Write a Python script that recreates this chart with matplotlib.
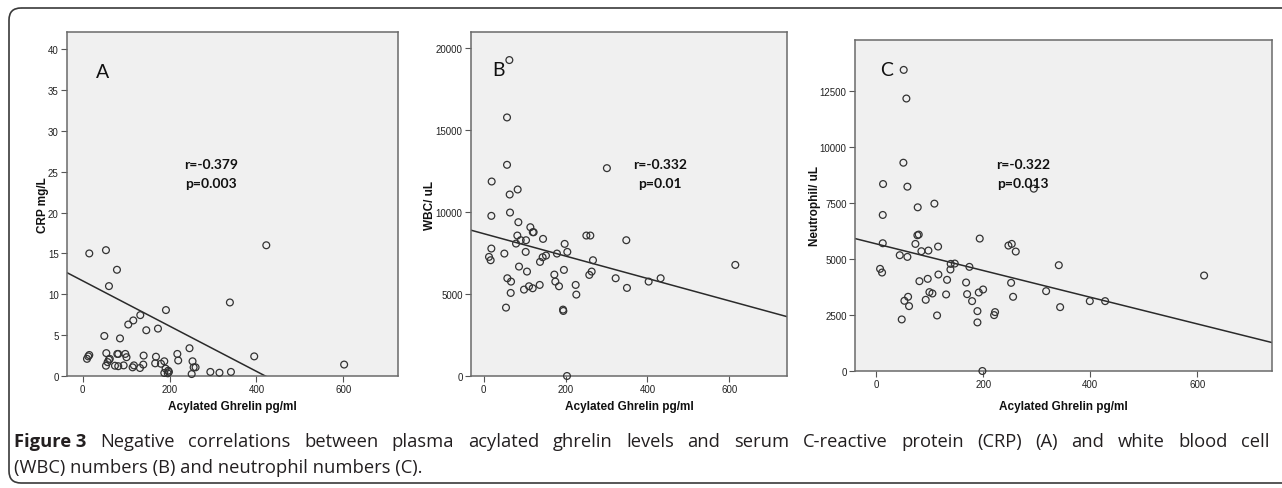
import matplotlib
matplotlib.use("Agg")
import matplotlib.pyplot as plt
from matplotlib.patches import FancyBboxPatch
import numpy as np

# ---------------- data ----------------
crp_x = [15.3, 53.7, 79, 60.6, 422.8, 339, 191.8, 132.7, 116.6, 105, 146.5, 173.4, 49.9, 86, 246,
         395, 602, 15.3, 13, 10, 54.5, 60.6, 62.5, 57.5, 53.7, 79.8, 82, 98.2, 101, 74.4,
         82, 94.4, 115, 118, 132, 140.4, 139.6, 168.8, 167, 180.3, 188, 191, 188, 197, 198.7,
         196, 218, 220, 253, 251, 255.5, 260, 294, 315, 341.4]
crp_y = [15.0, 15.4, 13.0, 11.0, 16.0, 9.0, 8.07, 7.45, 6.8, 6.3, 5.6, 5.8, 4.9, 4.6, 3.4,
         2.4, 1.4, 2.57, 2.4, 2.1, 2.8, 2.0, 2.1, 1.7, 1.26, 2.7, 2.7, 2.7, 2.3, 1.26,
         1.2, 1.3, 1.06, 1.3, 0.98, 2.5, 1.4, 2.36, 1.55, 1.5, 1.8, 0.9, 0.37, 0.65, 0.5,
         0.33, 2.7, 1.9, 1.8, 0.24, 1.06, 1.06, 0.5, 0.4, 0.5]

wbc_x = [62.7, 57, 57, 301, 19.5, 83, 63.5, 18.7, 64.3, 84.7, 114, 122, 120, 82.2, 250.8,
         260.5, 348.4, 145, 103.4, 90.4, 79, 197.8, 18.7, 50.5, 102.6, 204.3, 179, 152.2, 144, 13,
         17, 137.6, 267, 86.3, 105.8, 263.8, 172.6, 258, 196, 175, 57.8, 66.8, 322.4, 403, 432.3,
         614.7, 184, 136.8, 110.7, 119.7, 98.5, 224.7, 226.3, 66, 350, 54.5, 193.8, 194.6, 203.5]
wbc_y = [19287, 15784, 12892, 12688, 11873, 11385, 11079, 9776, 9979, 9389, 9083, 8778, 8778, 8574, 8574,
         8574, 8289, 8370, 8289, 8289, 8085, 8065, 7780, 7474, 7576, 7576, 7474, 7352, 7250, 7271,
         7067, 6965, 7067, 6680, 6375, 6375, 6191, 6171, 6476, 5763, 5967, 5763, 5967, 5763, 5967,
         6782, 5478, 5560, 5478, 5356, 5275, 5560, 4969, 5071, 5377, 4175, 4053, 3971, 0]

neu_x = [51.1, 56.1, 50.5, 12.5, 58, 294.4, 108.5, 77.3, 11.9, 79.2, 76.7, 193.3, 253.2, 73, 11.9,
         247, 115.4, 260.7, 97.3, 84.2, 43.7, 58, 341.2, 139, 146.6, 174, 138.5, 6.9, 10.6, 613,
         116, 132.2, 96, 80.5, 167.8, 252, 199.6, 191.5, 99.2, 104.8, 169.7, 130.4, 317.5, 59.3, 255.7,
         52.4, 92.3, 179, 399.2, 427.9, 61.1, 343.7, 189, 222, 220.2, 113.5, 47.4, 189, 198.3]
neu_y = [13436, 12159, 9294, 8343, 8225, 8136, 7468, 7304, 6963, 6087, 6057, 5909, 5671, 5671, 5701,
         5597, 5553, 5330, 5374, 5345, 5167, 5092, 4721, 4780, 4795, 4647, 4528, 4558, 4394, 4261,
         4305, 4068, 4112, 4008, 3949, 3934, 3637, 3504, 3519, 3459, 3429, 3415, 3563, 3311, 3311,
         3133, 3177, 3118, 3118, 3118, 2895, 2850, 2672, 2628, 2494, 2479, 2301, 2168, 0]

# fitted regression lines (intercept, slope)
fit_crp = (11.65, -0.0277)
fit_wbc = (8689, -6.836)
fit_neu = (5672, -5.95)

stats_crp = ["r=-0.379", "p=0.003"]
stats_wbc = ["r=-0.332", "p=0.01"]
stats_neu = ["r=-0.322", "p=0.013"]

yticks_crp = [0, 5, 10, 15, 20, 25, 30, 35, 40]
yticks_wbc = [0, 5000, 10000, 15000, 20000]
yticks_neu = [0, 2500, 5000, 7500, 10000, 12500]
xticks = [0, 200, 400, 600]

xlabel = "Acylated Ghrelin pg/ml"
ylabels = ["CRP mg/L", "WBC/ uL", "Neutrophil/ uL"]
letters = ["A", "B", "C"]

caption_bold = "Figure 3"
caption_line1 = ("Negative correlations between plasma acylated ghrelin levels and serum "
                 "C-reactive protein (CRP) (A) and white blood cell")
caption_line2 = "(WBC) numbers (B) and neutrophil numbers (C)."

# ---------------- layout ----------------
W, H = 1282, 489
fig = plt.figure(figsize=(W / 100, H / 100), dpi=100)
fig.patch.set_facecolor("white")

bg = fig.add_axes([0, 0, 1, 1], zorder=0)
bg.set_xlim(0, W)
bg.set_ylim(H, 0)
bg.axis("off")
frame = FancyBboxPatch((9, 9), W + 30, 475, boxstyle="round,pad=0,rounding_size=12",
                       facecolor="none", edgecolor="#3a3a3a", linewidth=1.2)
bg.add_patch(frame)

TICKFONT = ["Liberation Sans Narrow", "Liberation Sans", "DejaVu Sans"]
LBLFONT = ["Liberation Sans Narrow", "Liberation Sans", "DejaVu Sans"]
ANNFONT = ["Lato", "Open Sans", "DejaVu Sans"]
CAPFONT = ["Open Sans", "Lato", "DejaVu Sans"]


def px_axes(left, right, top, bottom):
    return fig.add_axes([left / W, (H - bottom) / H, (right - left) / W, (bottom - top) / H],
                        zorder=1)


panels = [
    dict(box=(67, 398, 33, 377), x=crp_x, y=crp_y, fit=fit_crp, xlim=(-36, 726), ylim=(0, 42.1),
         yt=yticks_crp, stats=stats_crp, letter_pos=(103, 72), stat_pos=(211, 165), ylab_x=43),
    dict(box=(471, 787, 33, 377), x=wbc_x, y=wbc_y, fit=fit_wbc, xlim=(-31, 741), ylim=(0, 21000),
         yt=yticks_wbc, stats=stats_wbc, letter_pos=(498, 71), stat_pos=(660, 165), ylab_x=430),
    dict(box=(855, 1272, 41, 372), x=neu_x, y=neu_y, fit=fit_neu, xlim=(-40, 740), ylim=(0, 14770),
         yt=yticks_neu, stats=stats_neu, letter_pos=(887, 71), stat_pos=(1023, 165), ylab_x=815),
]

top = fig.add_axes([0, 0, 1, 1], zorder=5)
top.set_xlim(0, W)
top.set_ylim(H, 0)
top.axis("off")
top.patch.set_alpha(0)

for i, p in enumerate(panels):
    l, r, t, b = p["box"]
    ax = px_axes(l, r, t, b)
    ax.set_facecolor("#f0f0f0")
    ax.scatter(p["x"], p["y"], s=24, facecolors="none", edgecolors="#333333", linewidths=0.9,
               zorder=3, clip_on=False)
    xs = np.array(p["xlim"])
    ax.plot(xs, p["fit"][0] + p["fit"][1] * xs, color="#2a2a2a", lw=1.1, zorder=2)
    ax.set_xlim(*p["xlim"])
    ax.set_ylim(*p["ylim"])
    ax.set_xticks(xticks)
    ax.set_yticks(p["yt"])
    ax.set_xticklabels([str(v) for v in xticks], family=TICKFONT, fontsize=7, color="#222222")
    ax.set_yticklabels([str(v) for v in p["yt"]], family=TICKFONT, fontsize=7, color="#222222")
    ax.tick_params(direction="out", length=4, width=0.8, color="#555555", pad=2)
    for s in ax.spines.values():
        s.set_color("#6a6a6a")
        s.set_linewidth(1.1)
    # axis labels (placed in pixel space)
    bg.text((l + r) / 2, 407, xlabel, ha="center", va="center", fontsize=8.5,
            fontweight="bold", family=LBLFONT, color="#111111")
    bg.text(p["ylab_x"], (t + b) / 2, ylabels[i], ha="center", va="center", rotation=90,
            fontsize=8.5, fontweight="bold", family=LBLFONT, color="#111111")
    # panel letter and statistics
    top.text(*p["letter_pos"], letters[i], ha="center", va="center", fontsize=14,
             family=ANNFONT, color="#111111")
    top.text(p["stat_pos"][0], p["stat_pos"][1], p["stats"][0], ha="center", va="center",
             fontsize=10, fontweight="bold", family=ANNFONT, color="#111111")
    top.text(p["stat_pos"][0], p["stat_pos"][1] + 19, p["stats"][1], ha="center", va="center",
             fontsize=10, fontweight="bold", family=ANNFONT, color="#111111")

# ---------------- caption (justified first line) ----------------
renderer = fig.canvas.get_renderer()
CAP_SIZE = 13.2
x0, x1 = 14, 1270
y1, y2 = 442, 468
words = [(caption_bold, "bold")] + [(w, "normal") for w in caption_line1.split()]
txts = []
total = 0.0
for w, fw in words:
    tt = top.text(0, y1, w, ha="left", va="center", fontsize=CAP_SIZE, fontweight=fw,
                  family=CAPFONT, color="#231f20")
    bb = tt.get_window_extent(renderer=renderer)
    txts.append((tt, bb.width))
    total += bb.width
gap = (x1 - x0 - total) / (len(words) - 1)
xc = x0
for tt, wd in txts:
    tt.set_x(xc)
    xc += wd + gap
top.text(x0, y2, caption_line2, ha="left", va="center", fontsize=CAP_SIZE,
         family=CAPFONT, color="#231f20")

fig.savefig("out.png", dpi=100, facecolor="white")
